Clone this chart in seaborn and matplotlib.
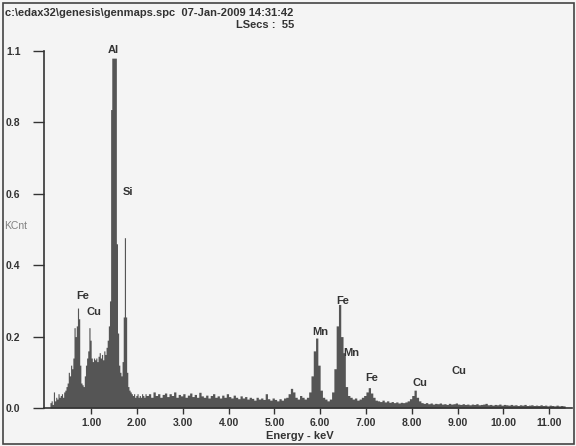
import numpy as np
import pandas as pd
import matplotlib
matplotlib.use("Agg")
import matplotlib.pyplot as plt
import seaborn as sns
from matplotlib.patches import Rectangle

# ---------------- data ----------------
# low-energy channels: start 0.10 keV, width 0.025 keV
lo_start = 0.10
lo_step = 0.025
lo_counts = [
    0.015, 0.02, 0.01, 0.045, 0.02, 0.03, 0.025, 0.04, 0.03, 0.035,
    0.04, 0.03, 0.045, 0.05, 0.06, 0.07, 0.10, 0.09, 0.12, 0.11,
    0.14, 0.225, 0.20, 0.23, 0.28, 0.25, 0.12, 0.07, 0.065, 0.06,
    0.09, 0.12, 0.14, 0.16, 0.225, 0.19, 0.14, 0.13, 0.14, 0.135,
    0.14, 0.13, 0.145, 0.155, 0.14, 0.15, 0.135, 0.16, 0.15, 0.17,
    0.19, 0.23, 0.30, 0.836, 0.98, 0.98, 0.98, 0.98, 0.46, 0.21,
    0.12, 0.10, 0.09, 0.13, 0.255, 0.477, 0.255, 0.10, 0.06, 0.05,
    0.045, 0.04, 0.035, 0.04, 0.03, 0.035, 0.04, 0.03, 0.035, 0.03,
    0.04, 0.035, 0.03, 0.04,
]
# higher-energy channels: width 0.05 keV, continuing after the low block
hi_step = 0.05
hi_counts = [
    0.035, 0.04, 0.03, 0.045, 0.035, 0.04, 0.03, 0.038, 0.042, 0.032,
    0.04, 0.035, 0.045, 0.03, 0.038, 0.034, 0.04, 0.03, 0.036, 0.042,
    0.032, 0.038, 0.03, 0.044, 0.034, 0.03, 0.036, 0.028, 0.035, 0.04,
    0.03, 0.034, 0.028, 0.036, 0.03, 0.04, 0.032, 0.028, 0.036, 0.03,
    0.026, 0.034, 0.028, 0.032, 0.025, 0.03, 0.027, 0.022, 0.03, 0.025,
    0.028, 0.024, 0.04, 0.026, 0.022, 0.028, 0.024, 0.02, 0.026, 0.022,
    0.028, 0.03, 0.04, 0.055, 0.045, 0.03, 0.025, 0.035, 0.03, 0.025,
    0.03,
    0.045, 0.09, 0.16, 0.196, 0.12, 0.05, 0.03, 0.025, 0.02, 0.025,
    0.045, 0.11, 0.23, 0.29, 0.20, 0.155, 0.06, 0.035, 0.03, 0.025,
    0.028, 0.022, 0.025, 0.03, 0.035, 0.045, 0.057, 0.042, 0.03, 0.022,
    0.02, 0.018, 0.022, 0.017, 0.02, 0.016, 0.018, 0.015, 0.017, 0.014,
    0.016, 0.015, 0.017, 0.02, 0.026, 0.035, 0.05, 0.03, 0.02, 0.015,
    0.013, 0.015, 0.012, 0.014, 0.011, 0.013, 0.012, 0.014, 0.011, 0.012,
    0.01, 0.013, 0.011, 0.012, 0.014, 0.011, 0.01, 0.012, 0.01, 0.011,
    0.009, 0.011, 0.01, 0.012, 0.009, 0.01, 0.011, 0.013, 0.009, 0.01,
    0.008, 0.01, 0.009, 0.011, 0.008, 0.01, 0.009, 0.008, 0.01, 0.008,
    0.009, 0.007, 0.009, 0.008, 0.01, 0.007, 0.008, 0.009, 0.007, 0.008,
    0.007, 0.009, 0.007, 0.008, 0.006, 0.008, 0.007, 0.006, 0.008, 0.006,
    0.007, 0.006,
]

x_ticks = [1, 2, 3, 4, 5, 6, 7, 8, 9, 10, 11]
x_ticklabels = ["1.00", "2.00", "3.00", "4.00", "5.00", "6.00", "7.00",
                "8.00", "9.00", "10.00", "11.00"]
y_ticks = [0.0, 0.2, 0.4, 0.6, 0.8, 1.0]
y_ticklabels = ["0.0", "0.2", "0.4", "0.6", "0.8", "1.1"]

peak_labels = ["Al", "Si", "Fe", "Cu", "Mn", "Fe", "Mn", "Fe", "Cu", "Cu"]
peak_label_e = [1.49, 1.80, 0.82, 1.07, 6.01, 6.49, 6.67, 7.12, 8.18, 9.03]
peak_label_v = [0.99, 0.59, 0.30, 0.255, 0.20, 0.285, 0.14, 0.07, 0.055, 0.09]

header1 = "c:\\edax32\\genesis\\genmaps.spc  07-Jan-2009 14:31:42"
header2 = "LSecs :  55"
xlabel = "Energy - keV"
ylabel = "KCnt"

# ---------------- build bins ----------------
edges_lo = lo_start + lo_step * np.arange(len(lo_counts) + 1)
edges_hi = edges_lo[-1] + hi_step * np.arange(len(hi_counts) + 1)
edges = [float(v) for v in np.concatenate([edges_lo, edges_hi[1:]])]
centers = [(a + b) / 2 for a, b in zip(edges[:-1], edges[1:])]
df = pd.DataFrame({"energy": centers, "kcnt": lo_counts + hi_counts})

# ---------------- style ----------------
sns.set_style("white")
plt.rcParams["font.family"] = ["Liberation Sans", "DejaVu Sans"]
plt.rcParams["font.weight"] = "bold"

bg = "#f4f4f4"
ink = "#333333"
fill = "#555555"

fig = plt.figure(figsize=(5.76, 4.46), dpi=100, facecolor=bg)
W, H = 576, 446
ax = fig.add_axes([44 / W, 1 - 408 / H, (572 - 44) / W, (408 - 51) / H])
ax.set_facecolor(bg)

sns.histplot(data=df, x="energy", weights="kcnt", bins=edges,
             element="step", fill=True, color=fill, alpha=1,
             linewidth=0, ax=ax)

ax.set_xlim(-0.03, 11.5)
ax.set_ylim(0, 1.0)
ax.set_xlabel("")
ax.set_ylabel("")

ax.set_xticks(x_ticks)
ax.set_xticklabels(x_ticklabels)
ax.set_yticks(y_ticks)
ax.set_yticklabels(y_ticklabels)
ax.tick_params(axis="x", bottom=True, direction="out", length=4, width=1,
               pad=3, colors=ink, labelsize=7.5)
ax.tick_params(axis="y", left=True, direction="out", length=8, width=1,
               pad=9, colors=ink, labelsize=7.5)
for lab in ax.get_xticklabels() + ax.get_yticklabels():
    lab.set_fontweight("bold")

for s in ["top", "right"]:
    ax.spines[s].set_visible(False)
for s in ["left", "bottom"]:
    ax.spines[s].set_color(ink)
    ax.spines[s].set_linewidth(1.2)

for t, e, v in zip(peak_labels, peak_label_e, peak_label_v):
    ax.text(e, v, t, ha="center", va="bottom", fontsize=8,
            fontweight="bold", color=ink, clip_on=False)

fig.text(5 / W, 1 - 13 / H, header1, ha="left", va="center",
         fontsize=8, fontweight="bold", color=ink)
fig.text(265 / W, 1 - 25 / H, header2, ha="center", va="center",
         fontsize=8, fontweight="bold", color=ink)
fig.text(300 / W, 1 - 436 / H, xlabel, ha="center", va="center",
         fontsize=8, fontweight="bold", color=ink)
fig.text(4 / W, 1 - 226 / H, ylabel, ha="left", va="center",
         fontsize=7.5, fontweight="normal", color="#808080")

fig.patches.append(Rectangle((2.5 / W, 2.5 / H), (571 / W), (441 / H),
                             transform=fig.transFigure, fill=False,
                             edgecolor="#444444", linewidth=1.2))

fig.savefig("out.png", dpi=100, facecolor=bg)
